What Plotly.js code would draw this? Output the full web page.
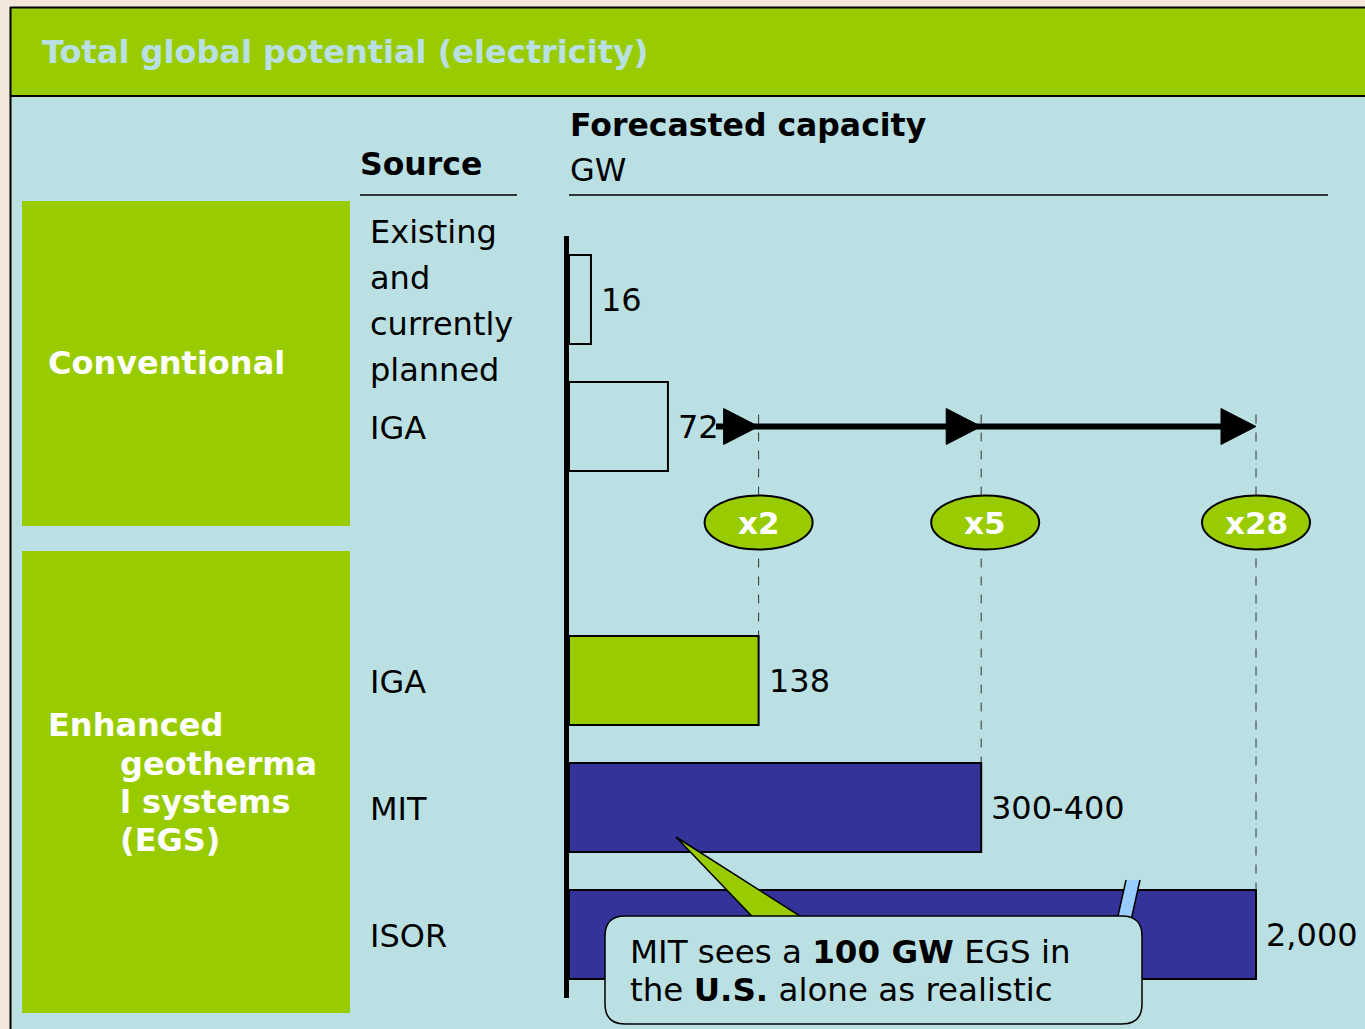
<!DOCTYPE html>
<html>
<head>
<meta charset="utf-8">
<script src="https://cdn.plot.ly/plotly-3.0.1.min.js"></script>
<style>html,body{margin:0;padding:0;background:#BBE0E3;}#chart{width:1365px;height:1029px;}</style>
</head>
<body>
<div id="chart"></div>
<script>
// ---------------- data ----------------
const sources = ["Existing and currently planned", "IGA", "IGA", "MIT", "ISOR"];
const sourceLines = [["Existing", "and", "currently", "planned"], ["IGA"], ["IGA"], ["MIT"], ["ISOR"]];
const groups = ["Conventional", "Conventional", "EGS", "EGS", "EGS"];
const capacityGW = [16, 72, 138, 300, 2000];          // forecasted capacity (lower bound for MIT)
const valueLabels = ["16", "72", "138", "300-400", "2,000"];
const rowIndex = [0, 1, 3, 4, 5];                       // vertical slot of each bar (slot 2 empty)
const multipliers = ["x2", "x5", "x28"];                // vs. conventional IGA (72 GW)
const multiplierBars = [2, 3, 4];                       // bars the multipliers refer to
const axisBreakAt = 500;                                // ISOR bar drawn truncated (axis break)
const groupLabels = ["Conventional", "Enhanced geothermal systems (EGS)"];
const calloutLines = ["MIT sees a <b>100 GW</b> EGS in", "the <b>U.S.</b> alone as realistic"];

// ---------------- styling ----------------
const GREEN = "#99CC00", LIGHT = "#BBE0E3", NAVY = "#333399", BREAK = "#99CCFF";
const FONT = "DejaVu Sans";
const barColors = [LIGHT, LIGHT, GREEN, NAVY, NAVY];

const W = 1365, H = 1029;
const px = x => x / W, py = y => 1 - y / H;
const PLOT_L = 569, PLOT_R = 1256, PLOT_T = 236, PLOT_B = 998;
const PX_PER_X = (PLOT_R - PLOT_L) / axisBreakAt;
const PX_PER_ROW = (PLOT_B - PLOT_T) / 6;
const dx = p => p / PX_PER_X, dy = p => p / PX_PER_ROW;
const rowPx = r => PLOT_T + (r + 0.5) * PX_PER_ROW;

const drawn = capacityGW.map(v => Math.min(v, axisBreakAt));

const trace = {
  type: "bar", orientation: "h",
  x: drawn, y: rowIndex, width: 0.7,
  marker: {color: barColors, line: {color: "#000", width: 2}},
  hoverinfo: "skip", showlegend: false
};

const shapes = [];
const ann = [];

// background decorations
shapes.push({type:"rect", xref:"paper", yref:"paper", x0:0, x1:px(10), y0:0, y1:1, fillcolor:"#F2E7DA", line:{width:0}, layer:"below"});
shapes.push({type:"rect", xref:"paper", yref:"paper", x0:0, x1:1, y0:py(7), y1:1, fillcolor:"#F2E7DA", line:{width:0}, layer:"below"});
shapes.push({type:"rect", xref:"paper", yref:"paper", x0:px(11), x1:1, y0:py(96), y1:py(8), fillcolor:GREEN, line:{width:0}, layer:"below"});
shapes.push({type:"line", xref:"paper", yref:"paper", x0:px(10), x1:1, y0:py(7.5), y1:py(7.5), line:{color:"#000", width:2}, layer:"below"});
shapes.push({type:"line", xref:"paper", yref:"paper", x0:px(10.5), x1:px(10.5), y0:0, y1:py(7), line:{color:"#000", width:2}, layer:"below"});
shapes.push({type:"line", xref:"paper", yref:"paper", x0:px(10), x1:1, y0:py(96), y1:py(96), line:{color:"#000", width:2}, layer:"below"});
// group boxes
shapes.push({type:"rect", xref:"paper", yref:"paper", x0:px(22), x1:px(350), y0:py(526), y1:py(201), fillcolor:GREEN, line:{width:0}, layer:"below"});
shapes.push({type:"rect", xref:"paper", yref:"paper", x0:px(22), x1:px(350), y0:py(1013), y1:py(551), fillcolor:GREEN, line:{width:0}, layer:"below"});
// header underlines
shapes.push({type:"line", xref:"paper", yref:"paper", x0:px(360), x1:px(517), y0:py(195), y1:py(195), line:{color:"#000", width:1.5}});
shapes.push({type:"line", xref:"paper", yref:"paper", x0:px(569), x1:px(1328), y0:py(195), y1:py(195), line:{color:"#000", width:1.5}});

// multiplier guides: dashed lines from the arrow row down to bar tops
const arrowRow = rowIndex[1];
multiplierBars.forEach(i => {
  shapes.push({type:"line", xref:"x", yref:"y", x0:drawn[i], x1:drawn[i], y0:arrowRow - dy(12), y1:rowIndex[i] - 0.35,
               line:{color:"#333", width:1, dash:"dash"}});
});
// arrow line starting after the "72" label
shapes.push({type:"line", xref:"x", yref:"y", x0:drawn[1] + dx(48), x1:drawn[4] - dx(10), y0:arrowRow, y1:arrowRow,
             line:{color:"#000", width:6}});
multiplierBars.forEach(i => {
  const tip = drawn[i], base = tip - dx(35), h = dy(18);
  shapes.push({type:"path", xref:"x", yref:"y",
    path:`M ${base},${arrowRow - h} L ${tip},${arrowRow} L ${base},${arrowRow + h} Z`,
    fillcolor:"#000", line:{color:"#000", width:1}});
});
// multiplier ellipses
const ellRow = arrowRow + dy(96);
multiplierBars.forEach((i, k) => {
  const cx = drawn[i] + (k === 1 ? dx(4) : 0);
  shapes.push({type:"circle", xref:"x", yref:"y", x0:cx - dx(54), x1:cx + dx(54), y0:ellRow - dy(27), y1:ellRow + dy(27),
               fillcolor:GREEN, line:{color:"#000", width:2}});
  ann.push({xref:"x", yref:"y", x:cx, y:ellRow, text:"<b>" + multipliers[k] + "</b>", showarrow:false,
            font:{family:FONT, size:31, color:"#fff"}, xanchor:"center", yanchor:"middle"});
});

// axis-break mark on ISOR bar
shapes.push({type:"path", xref:"paper", yref:"paper",
  path:`M ${px(1126)},${py(880)} L ${px(1140)},${py(880)} L ${px(1130)},${py(925)} L ${px(1116)},${py(925)} Z`,
  fillcolor:BREAK, line:{width:0}});
shapes.push({type:"line", xref:"paper", yref:"paper", x0:px(1126), x1:px(1116), y0:py(880), y1:py(925), line:{color:"#000", width:1.5}});
shapes.push({type:"line", xref:"paper", yref:"paper", x0:px(1140), x1:px(1130), y0:py(880), y1:py(925), line:{color:"#000", width:1.5}});

// callout pointer
shapes.push({type:"path", xref:"paper", yref:"paper",
  path:`M ${px(676)},${py(837)} L ${px(822)},${py(930)} L ${px(765)},${py(930)} Z`,
  fillcolor:GREEN, line:{color:"#000", width:1.5}});
// callout box (rounded)
(function(){
  const x0=605, x1=1142, y0=916, y1=1024, r=20;
  const P = (x,y) => `${px(x)},${py(y)}`;
  const path = `M ${P(x0+r,y0)} L ${P(x1-r,y0)} Q ${P(x1,y0)} ${P(x1,y0+r)} L ${P(x1,y1-r)} Q ${P(x1,y1)} ${P(x1-r,y1)} ` +
               `L ${P(x0+r,y1)} Q ${P(x0,y1)} ${P(x0,y1-r)} L ${P(x0,y0+r)} Q ${P(x0,y0)} ${P(x0+r,y0)} Z`;
  shapes.push({type:"path", xref:"paper", yref:"paper", path, fillcolor:LIGHT, line:{color:"#000", width:1.5}});
})();

// ---------------- text ----------------
const T = (x, y, text, size, color, extra) => Object.assign({xref:"paper", yref:"paper", x:px(x), y:py(y), text,
  showarrow:false, xanchor:"left", yanchor:"middle", align:"left", font:{family:FONT, size, color}}, extra || {});

const NS = 32, BS = 31.5;
ann.push(T(40, 52, "<b>Total global potential (electricity)</b>", 32, LIGHT));
ann.push(T(358, 164, "<b>Source</b>", BS, "#000"));
ann.push(T(568, 125, "<b>Forecasted capacity</b>", BS, "#000"));
ann.push(T(568, 170, "GW", NS, "#000"));
ann.push(T(46, 363, "<b>" + groupLabels[0] + "</b>", 32, "#fff"));
const egsLines = [["Enhanced", 46, 725], ["geotherma", 118, 764], ["l systems", 118, 802], ["(EGS)", 118, 840]];
egsLines.forEach(l => ann.push(T(l[1], l[2], "<b>" + l[0] + "</b>", 32, "#fff")));

// source labels
sourceLines.forEach((lines, i) => {
  const n = lines.length;
  lines.forEach((t, j) => {
    const off = (j - (n - 1) / 2) * 46;
    ann.push(T(368, rowPx(rowIndex[i]) + off + 1.5, t, NS, "#000"));
  });
});
// value labels
valueLabels.forEach((t, i) => {
  ann.push({xref:"x", yref:"y", x:drawn[i], y:rowIndex[i], text:t, showarrow:false, xanchor:"left", yanchor:"middle",
            xshift:8, font:{family:FONT, size:NS, color:"#000"}});
});
// callout text
calloutLines.forEach((t, j) => ann.push(T(628, 952 + j * 38, t, 32.5, "#000")));

const layout = {
  width: W, height: H,
  margin: {l:0, r:0, t:0, b:0, pad:0},
  paper_bgcolor: LIGHT, plot_bgcolor: "rgba(0,0,0,0)",
  showlegend: false,
  xaxis: {domain:[px(PLOT_L), 1], range:[0, (W - PLOT_L) / PX_PER_X], showgrid:false, zeroline:false, showline:false,
          showticklabels:false, ticks:"", fixedrange:true},
  yaxis: {domain:[py(PLOT_B), py(PLOT_T)], range:[5.5, -0.5], showgrid:false, zeroline:false, showline:true,
          linecolor:"#000", linewidth:5, showticklabels:false, ticks:"", fixedrange:true},
  shapes, annotations: ann,
  font: {family: FONT}
};
Plotly.newPlot("chart", [trace], layout, {displayModeBar:false, staticPlot:true});
</script>
</body>
</html>
